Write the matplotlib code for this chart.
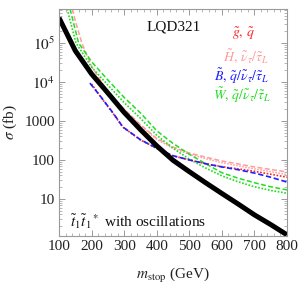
import matplotlib
matplotlib.use("Agg")
import matplotlib.pyplot as plt
from matplotlib.ticker import FixedLocator, FixedFormatter, MultipleLocator, LogLocator, NullFormatter

plt.rcParams['font.family'] = ['Liberation Serif', 'DejaVu Serif']
plt.rcParams['mathtext.fontset'] = 'stix'

# ---- data ----
m_black = [100, 150, 200, 250, 300, 350, 400, 450, 500, 550, 600, 650, 700, 750, 800]
s_black = [4.4e5, 6.3e4, 1.6e4, 5.2e3, 1.65e3, 600, 230, 98, 50, 26, 13.8, 7.4, 3.9, 2.2, 1.2]

m_green_dash = [134, 160, 200, 250, 300, 350, 400, 450, 500, 550, 600, 650, 700, 750, 800]
s_green_dash = [7.4e5, 1.0e5, 3.3e4, 1.12e4, 4.0e3, 1.6e3, 560, 265, 140, 80, 47, 34, 26, 20.5, 17]

m_green_dot = [125, 152, 200, 250, 300, 350, 400, 450, 500, 550, 600, 650, 700, 750, 800]
s_green_dot = [7.4e5, 1.0e5, 2.4e4, 8.3e3, 2.95e3, 1.17e3, 430, 200, 105, 62, 39, 27.5, 20.5, 16.5, 14]

m_pink_dash = [141, 150, 170, 200, 250, 300, 350, 400, 450, 500, 550, 600, 650, 700, 750, 800]
s_pink_dash = [7.4e5, 3.7e5, 1.0e5, 2.5e4, 5.6e3, 2.0e3, 800, 355, 215, 150, 118, 94, 79, 66, 57, 49]

m_pink_dot = [300, 350, 400, 450, 500, 550, 600, 650, 700, 750, 800]
s_pink_dot = [1.95e3, 770, 335, 200, 140, 108, 85, 71, 59, 50, 42]

m_blue = [195, 230, 266, 296, 350, 400, 450, 500, 550, 600, 650, 700, 750, 800]
s_blue = [9.3e3, 4.0e3, 1.6e3, 700, 330, 200, 128, 100, 80, 66, 56, 46, 36, 27]

m_red_dot = [200, 230, 266, 296, 350, 400, 450, 500, 550, 600, 650, 700, 750, 800]
s_red_dot = [8.8e3, 3.9e3, 1.55e3, 690, 325, 198, 127, 100, 80, 67, 59, 51, 43, 36]

x_ticks = [100, 200, 300, 400, 500, 600, 700, 800]
y_ticks = [10, 100, 1000, 1e4, 1e5]
y_tick_labels = ['10', '100', '1000', r'$10^4$', r'$10^5$']

RED = '#ff2424'
PINK = '#ff9c9c'
BLUE = '#1e1eff'
GREEN = '#22dd22'

fig = plt.figure(figsize=(3.0, 2.84), dpi=100)
ax = fig.add_axes([59/300, 1-236/284, 228/300, 227/284])

dash = (0, (3.2, 1.6))
dot = (0, (1.0, 1.0))

ax.plot(m_pink_dash, s_pink_dash, color=PINK, lw=1.1, ls=dash)
ax.plot(m_pink_dot, s_pink_dot, color=PINK, lw=1.1, ls=dot)
ax.plot(m_green_dash, s_green_dash, color=GREEN, lw=1.1, ls=dash)
ax.plot(m_green_dot, s_green_dot, color=GREEN, lw=1.2, ls=dot)
ax.plot(m_red_dot, s_red_dot, color=RED, lw=1.2, ls=dot)
ax.plot(m_blue, s_blue, color=BLUE, lw=1.2, ls=dash)
ax.plot(m_black, s_black, color='black', lw=3.6, solid_capstyle='butt')

ax.set_yscale('log')
ax.set_xlim(100, 800)
ax.set_ylim(1.12, 7.4e5)

ax.xaxis.set_major_locator(FixedLocator(x_ticks))
ax.xaxis.set_minor_locator(MultipleLocator(20))
ax.yaxis.set_major_locator(FixedLocator(y_ticks))
ax.yaxis.set_major_formatter(FixedFormatter(y_tick_labels))
ax.yaxis.set_minor_locator(LogLocator(base=10, subs=range(2, 10)))
ax.yaxis.set_minor_formatter(NullFormatter())

for sp in ax.spines.values():
    sp.set_color('#9a9a9a')
    sp.set_linewidth(0.8)
ax.tick_params(which='both', direction='in', top=True, right=True, color='#9a9a9a',
               labelsize=11, labelcolor='#222222')
ax.tick_params(which='major', length=4, width=0.7, pad=3)
ax.tick_params(which='minor', length=2, width=0.5)

ax.set_ylabel(r'$\sigma$ (fb)', fontsize=11, color='#222222')
ax.yaxis.set_label_coords(-0.175, 0.5)
ax.set_xlabel(r'$m_{\rm stop}$ (GeV)', fontsize=11, color='#222222')
ax.xaxis.set_label_coords(0.5, -0.13)

fig.text(147/300, 1-27/284, 'LQD321', fontsize=11, ha='left', va='center', color='#111111')
fig.text(243/300, 1-34/284, r'$\tilde{g},\, \tilde{q}$', fontsize=10, ha='center', va='center', color=RED)
fig.text(246/300, 1-56/284, r'$\tilde{H},\, \tilde{\nu}_\tau/\tilde{\tau}_L$', fontsize=10, ha='center', va='center', color=PINK)
fig.text(242/300, 1-76/284, r'$\tilde{B},\, \tilde{q}/\tilde{\nu}_\tau/\tilde{\tau}_L$', fontsize=10, ha='center', va='center', color=BLUE)
fig.text(242/300, 1-95/284, r'$\tilde{W},\, \tilde{q}/\tilde{\nu}_\tau/\tilde{\tau}_L$', fontsize=10, ha='center', va='center', color=GREEN)
fig.text(70/300, 1-222/284, r'$\tilde{t}_1\tilde{t}_1{}^*$ with oscillations', fontsize=11, ha='left', va='center', color='#111111')

fig.savefig('out.png', dpi=100)
